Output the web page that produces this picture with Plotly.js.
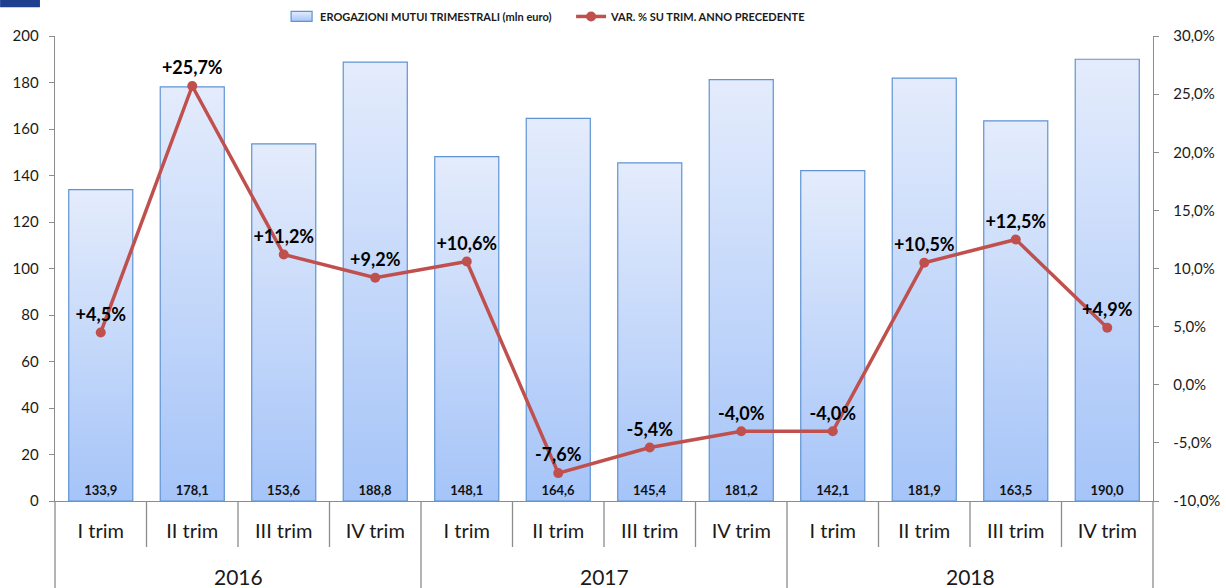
<!DOCTYPE html>
<html>
<head>
<meta charset="utf-8">
<script src="https://cdn.plot.ly/plotly-3.0.1.min.js"></script>
<style>
html,body{margin:0;padding:0;background:#fff;}
#chart{width:1226px;height:588px;}
</style>
</head>
<body>
<div id="chart"></div>
<script>
const years = ['2016','2016','2016','2016','2017','2017','2017','2017','2018','2018','2018','2018'];
const quarters = ['I trim','II trim','III trim','IV trim','I trim','II trim','III trim','IV trim','I trim','II trim','III trim','IV trim'];
const erogazioni = [133.9,178.1,153.6,188.8,148.1,164.6,145.4,181.2,142.1,181.9,163.5,190.0];
const variazione = [4.5,25.7,11.2,9.2,10.6,-7.6,-5.4,-4.0,-4.0,10.5,12.5,4.9];
const leftTicks = [0,20,40,60,80,100,120,140,160,180,200];
const rightTicks = [-10,-5,0,5,10,15,20,25,30];

const fmt = v => v.toFixed(1).replace('.', ',');
const barText = erogazioni.map(fmt);
const lineText = variazione.map(v => (v > 0 ? '+' : '') + fmt(v) + '%');
const rightTickText = rightTicks.map(v => fmt(v) + '%');
const idx = quarters.map((_, i) => i);

const FONT = 'Lato, "Open Sans", sans-serif';
const AXC = '#8c8c8c';
const TXT = '#1a1a1a';

// year group labels and separators derived from the category arrays
const uniqueYears = [...new Set(years)];
const yearAnnotations = uniqueYears.map(y => {
  const ii = idx.filter(i => years[i] === y);
  return {
    xref: 'x', yref: 'paper',
    x: ii.reduce((a, b) => a + b, 0) / ii.length,
    y: -0.163, yanchor: 'middle', xanchor: 'center',
    text: y, showarrow: false,
    font: {family: FONT, size: 21, color: TXT}
  };
});
const sepShapes = idx.slice(0, -1).map(i => ({
  type: 'line', xref: 'x', yref: 'paper',
  x0: i + 0.5, x1: i + 0.5, y0: 0,
  y1: years[i] !== years[i + 1] ? -0.2 : -0.099,
  line: {color: AXC, width: 1.3}
}));

const traces = [
  {
    type: 'bar',
    name: 'EROGAZIONI MUTUI TRIMESTRALI (mln euro)',
    x: idx,
    y: erogazioni,
    width: 0.7,
    marker: {color: '#c6d9fa', line: {color: '#5f93d3', width: 1.2}},
    text: barText,
    textposition: 'inside',
    insidetextanchor: 'start',
    textangle: 0,
    textfont: {family: FONT, size: 13, color: '#111', weight: 'bold'},
    hoverinfo: 'skip'
  },
  {
    type: 'scatter',
    mode: 'lines+markers+text',
    name: 'VAR. % SU TRIM. ANNO PRECEDENTE',
    x: idx,
    y: variazione,
    yaxis: 'y2',
    line: {color: '#c0504d', width: 3.5},
    marker: {color: '#c0504d', size: 10},
    text: lineText,
    textposition: 'top center',
    textfont: {family: FONT, size: 18, color: '#000', weight: 'bold'},
    cliponaxis: false,
    hoverinfo: 'skip'
  }
];

const layout = {
  width: 1226,
  height: 588,
  margin: {l: 55, r: 73, t: 36, b: 87, autoexpand: false},
  paper_bgcolor: '#fff',
  plot_bgcolor: 'rgba(0,0,0,0)',
  separators: ',.',
  font: {family: FONT, color: TXT},
  showlegend: true,
  legend: {
    orientation: 'h',
    x: 0.205, xanchor: 'left',
    y: 1.042, yanchor: 'middle',
    font: {family: FONT, size: 11, color: TXT, weight: 'bold'},
    entrywidth: 246,
    entrywidthmode: 'pixels',
    bgcolor: 'rgba(0,0,0,0)'
  },
  xaxis: {
    type: 'linear',
    range: [-0.5, 11.5],
    tickvals: idx, ticktext: quarters,
    showline: true, linecolor: AXC, linewidth: 1.3,
    ticks: '', ticklabelstandoff: 12,
    tickfont: {family: FONT, size: 20, color: TXT},
    showgrid: false, zeroline: false
  },
  yaxis: {
    range: [0, 200],
    tickvals: leftTicks,
    showline: true, linecolor: AXC, linewidth: 1.3,
    ticks: 'outside', ticklen: 5, tickcolor: AXC,
    ticklabelstandoff: 7,
    showgrid: false, zeroline: false,
    tickfont: {family: FONT, size: 15, color: TXT}
  },
  yaxis2: {
    overlaying: 'y', side: 'right',
    range: [-10, 30],
    tickvals: rightTicks, ticktext: rightTickText,
    showline: true, linecolor: AXC, linewidth: 1.3,
    ticks: 'outside', ticklen: 5, tickcolor: AXC,
    ticklabelstandoff: 11,
    showgrid: false, zeroline: false,
    tickfont: {family: FONT, size: 15, color: TXT}
  },
  annotations: yearAnnotations,
  shapes: [
    ...sepShapes,
    {type: 'line', xref: 'paper', yref: 'paper', x0: 0, x1: 0, y0: 0, y1: -0.2, line: {color: AXC, width: 1.3}},
    {type: 'line', xref: 'paper', yref: 'paper', x0: 1, x1: 1, y0: 0, y1: -0.2, line: {color: AXC, width: 1.3}},
    {type: 'rect', xref: 'paper', yref: 'paper', x0: -0.05, x1: -0.0137, y0: 1.062, y1: 1.09, fillcolor: '#1f3f8f', line: {width: 0}}
  ]
};

function restyleSvg(gd) {
  const svg = gd.querySelector('.main-svg');
  const defs = svg.querySelector('defs');
  const ns = 'http://www.w3.org/2000/svg';
  if (!document.getElementById('barGrad')) {
    const grad = document.createElementNS(ns, 'linearGradient');
    grad.setAttribute('id', 'barGrad');
    grad.setAttribute('x1', '0'); grad.setAttribute('y1', '0');
    grad.setAttribute('x2', '0'); grad.setAttribute('y2', '1');
    [['0%', '#e4ecfc'], ['100%', '#a5c4f8']].forEach(([o, c]) => {
      const s = document.createElementNS(ns, 'stop');
      s.setAttribute('offset', o); s.setAttribute('stop-color', c);
      grad.appendChild(s);
    });
    defs.appendChild(grad);
  }
  gd.querySelectorAll('.barlayer .point path').forEach(p => { p.style.fill = 'url(#barGrad)'; });
  // widen the bar legend swatch to a flat rectangle like the original
  const legendTraces = gd.querySelectorAll('.legend .traces');
  if (legendTraces.length) {
    legendTraces[0].querySelectorAll('.legendpoints path').forEach(p => {
      p.setAttribute('d', 'M-9,-5H12V5H-9Z');
      p.style.fill = 'url(#barGrad)';
    });
  }
}

Plotly.newPlot('chart', traces, layout, {staticPlot: true, displayModeBar: false}).then(gd => {
  restyleSvg(gd);
  setTimeout(() => restyleSvg(gd), 50);
});
</script>
</body>
</html>
